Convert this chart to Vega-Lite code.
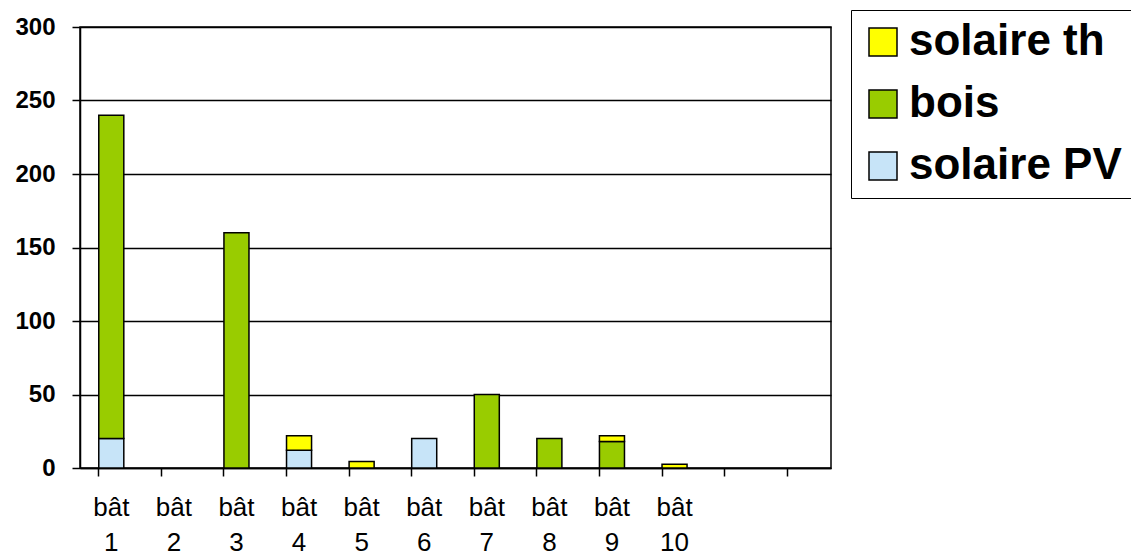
{
  "$schema": "https://vega.github.io/schema/vega-lite/v6.json",
  "autosize": "none",
  "width": 751,
  "height": 441,
  "padding": {"left": 80, "top": 27, "right": 300, "bottom": 88},
  "background": "white",
  "config": {
    "view": {"stroke": "black", "strokeWidth": 1.5},
    "font": "Liberation Sans"
  },
  "data": {
    "values": [
      {"bat": 1, "source": "solaire PV", "val": 20, "ord": 1},
      {"bat": 1, "source": "bois", "val": 220, "ord": 2},
      {"bat": 3, "source": "bois", "val": 160, "ord": 2},
      {"bat": 4, "source": "solaire PV", "val": 12, "ord": 1},
      {"bat": 4, "source": "solaire th", "val": 10, "ord": 3},
      {"bat": 5, "source": "solaire th", "val": 4.5, "ord": 3},
      {"bat": 6, "source": "solaire PV", "val": 20, "ord": 1},
      {"bat": 7, "source": "bois", "val": 50, "ord": 2},
      {"bat": 8, "source": "bois", "val": 20, "ord": 2},
      {"bat": 9, "source": "bois", "val": 18, "ord": 2},
      {"bat": 9, "source": "solaire th", "val": 4, "ord": 3},
      {"bat": 10, "source": "solaire th", "val": 2.5, "ord": 3}
    ]
  },
  "layer": [
    {
      "mark": {"type": "bar", "stroke": "black", "strokeWidth": 1.5},
      "encoding": {
        "x": {
          "field": "bat",
          "type": "ordinal",
          "scale": {"domain": [1,2,3,4,5,6,7,8,9,10,11,12], "paddingInner": 0.6, "paddingOuter": 0.3},
          "axis": {
            "title": null,
            "labelAngle": 0,
            "labelExpr": "datum.value <= 10 ? ['bât', '' + datum.value] : ''",
            "labelFontSize": 26,
            "labelColor": "black",
            "labelLineHeight": 35,
            "labelPadding": 47,
            "labelBaseline": "alphabetic",
            "ticks": false,
            "domainColor": "black",
            "domainWidth": 1.5
          }
        },
        "y": {
          "field": "val",
          "type": "quantitative",
          "stack": "zero",
          "scale": {"domain": [0, 300], "nice": false},
          "axis": {
            "title": null,
            "values": [0, 50, 100, 150, 200, 250, 300],
            "labelFontSize": 24,
            "labelFontWeight": "bold",
            "labelColor": "black",
            "labelPadding": 17,
            "tickSize": 8,
            "tickColor": "black",
            "tickWidth": 1.5,
            "domainColor": "black",
            "domainWidth": 1.5,
            "grid": true,
            "gridColor": "black",
            "gridWidth": 1.5
          }
        },
        "color": {
          "field": "source",
          "type": "nominal",
          "scale": {
            "domain": ["solaire th", "bois", "solaire PV"],
            "range": ["#ffff00", "#99cc00", "#c7e4f8"]
          },
          "legend": {
            "title": null,
            "orient": "none",
            "legendX": 771,
            "legendY": -17,
            "strokeColor": "black",
            "padding": 10,
            "symbolType": "square",
            "symbolSize": 784,
            "symbolStrokeColor": "black",
            "symbolStrokeWidth": 1.5,
            "labelFontSize": 44,
            "labelFontWeight": "bold",
            "labelColor": "black",
            "labelLimit": 400,
            "rowPadding": 18,
            "labelOffset": 4
          }
        },
        "order": {"field": "ord", "type": "quantitative"}
      }
    },
    {
      "mark": {"type": "tick", "opacity": 0},
      "encoding": {
        "x": {
          "field": "bat",
          "type": "ordinal",
          "axis": {
            "orient": "bottom",
            "bandPosition": 0,
            "labels": false,
            "domain": false,
            "ticks": true,
            "tickSize": 8,
            "tickColor": "black",
            "tickWidth": 1.5,
            "title": null
          }
        }
      }
    }
  ],
  "resolve": {"axis": {"x": "independent"}}
}
